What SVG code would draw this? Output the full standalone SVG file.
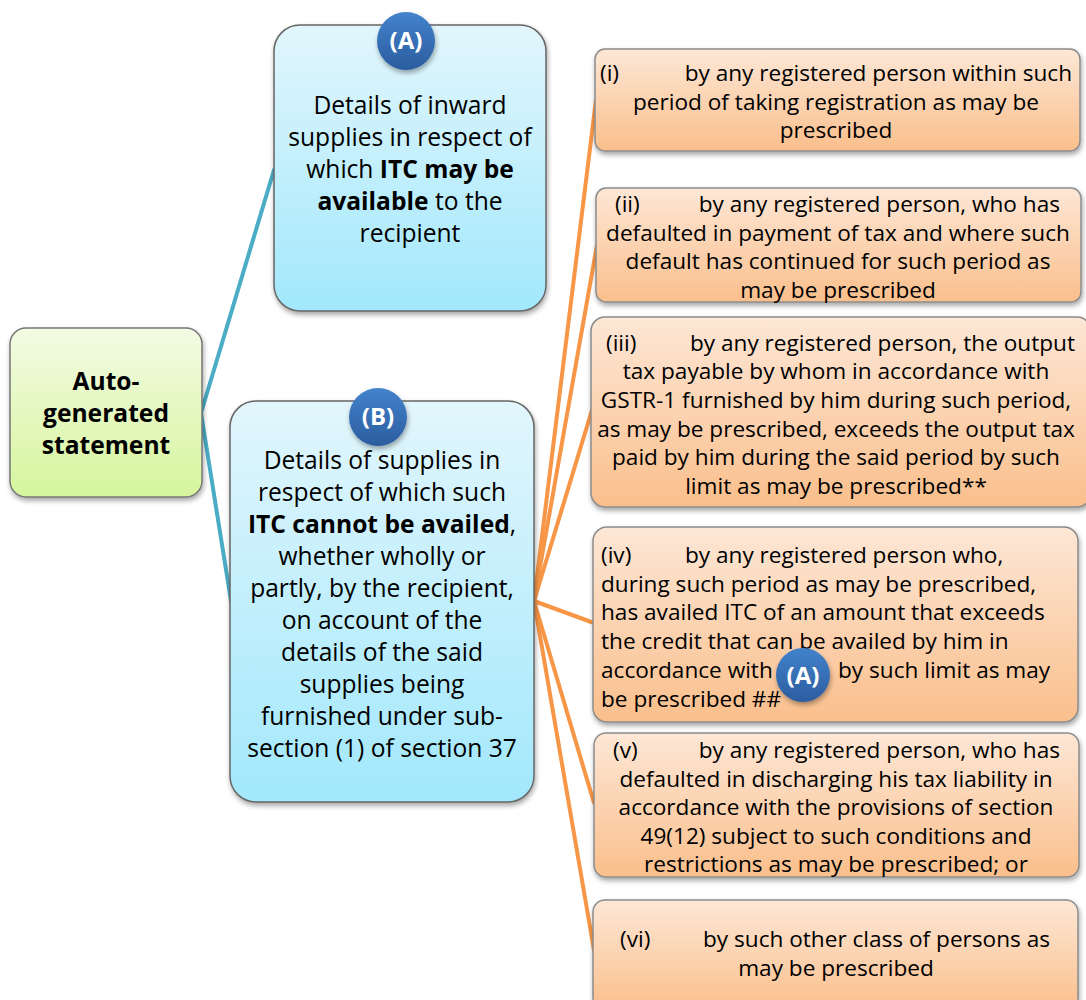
<svg xmlns="http://www.w3.org/2000/svg" width="1086" height="1000" viewBox="0 0 1086 1000">
<defs>
<linearGradient id="gOr" x1="0" y1="0" x2="0" y2="1"><stop offset="0" stop-color="#fde7d6"/><stop offset="1" stop-color="#fabf8c"/></linearGradient>
<linearGradient id="gBl" x1="0" y1="0" x2="0" y2="1"><stop offset="0" stop-color="#e2f6fc"/><stop offset="1" stop-color="#a2e8fc"/></linearGradient>
<linearGradient id="gGr" x1="0" y1="0" x2="0" y2="1"><stop offset="0" stop-color="#f3fbe4"/><stop offset="1" stop-color="#d6f59c"/></linearGradient>
<linearGradient id="gBadge" x1="0" y1="0" x2="0" y2="1"><stop offset="0" stop-color="#4383cc"/><stop offset="1" stop-color="#2b5c9f"/></linearGradient>
<filter id="sh" x="-10%" y="-10%" width="125%" height="130%"><feDropShadow dx="1" dy="3" stdDeviation="2.5" flood-color="#000" flood-opacity="0.35"/></filter>
</defs>
<style>
.t{font-family:"Open Sans","Noto Sans","Liberation Sans",sans-serif;fill:#000}
.big{font-size:24.6px}
.sm{font-size:22.6px}
.c{text-anchor:middle}
.b{font-weight:bold}
.orb{fill:url(#gOr);stroke:#8c8c8c;stroke-width:1.5}
.blb{fill:url(#gBl);stroke:#666;stroke-width:1.5}
.bd{fill:url(#gBadge);filter:url(#sh)}
.bdt{font-family:"Open Sans","Noto Sans","Liberation Sans",sans-serif;font-size:24px;font-weight:bold;fill:#fff;text-anchor:middle}
</style>
<g id="connectors" fill="none" stroke-linecap="round">
<g stroke="#4aacc5" stroke-width="4">
<line x1="201" y1="413" x2="274" y2="170"/>
<line x1="201" y1="413" x2="231" y2="601"/>
</g>
<g stroke="#f79646" stroke-width="4">
<line x1="534" y1="601" x2="596" y2="100"/>
<line x1="534" y1="601" x2="597" y2="245"/>
<line x1="534" y1="601" x2="592" y2="410"/>
<line x1="534" y1="601" x2="594" y2="623"/>
<line x1="534" y1="601" x2="594" y2="803"/>
<line x1="534" y1="601" x2="594" y2="950"/>
</g>
</g>
<g id="root">
<rect x="10" y="328" width="192" height="169" rx="16" fill="url(#gGr)" stroke="#777" stroke-width="1.5" filter="url(#sh)"/>
<text class="t big b c" x="106" y="390">Auto-</text>
<text class="t big b c" x="106" y="422">generated</text>
<text class="t big b c" x="106" y="454">statement</text>
</g>
<g id="nodeA">
<rect class="blb" x="274" y="25" width="272" height="286" rx="26" filter="url(#sh)"/>
<text class="t big c" x="410" y="114">Details of inward</text>
<text class="t big c" x="410" y="146">supplies in respect of</text>
<text class="t big c" x="410" y="178">which <tspan class="b">ITC may be</tspan></text>
<text class="t big c" x="410" y="210"><tspan class="b">available</tspan> to the</text>
<text class="t big c" x="410" y="242">recipient</text>
<circle class="bd" cx="406" cy="41" r="29"/>
<text class="bdt" x="406" y="49">(A)</text>
</g>
<g id="nodeB">
<rect class="blb" x="230" y="401" width="304" height="401" rx="26" filter="url(#sh)"/>
<text class="t big c" x="382" y="469">Details of supplies in</text>
<text class="t big c" x="382" y="501">respect of which such</text>
<text class="t big c" x="382" y="533"><tspan class="b">ITC cannot be availed</tspan>,</text>
<text class="t big c" x="382" y="565">whether wholly or</text>
<text class="t big c" x="382" y="597">partly, by the recipient,</text>
<text class="t big c" x="382" y="629">on account of the</text>
<text class="t big c" x="382" y="661">details of the said</text>
<text class="t big c" x="382" y="693">supplies being</text>
<text class="t big c" x="382" y="725">furnished under sub-</text>
<text class="t big c" x="382" y="757">section (1) of section 37</text>
<circle class="bd" cx="378" cy="417" r="29"/>
<text class="bdt" x="378" y="425">(B)</text>
</g>
<g id="node1">
<rect class="orb" x="595" y="49" width="485" height="102" rx="10" filter="url(#sh)"/>
<text class="t sm" x="600" y="81">(i)</text>
<text class="t sm" x="1072" y="81" text-anchor="end">by any registered person within such</text>
<text class="t sm c" x="836" y="110">period of taking registration as may be</text>
<text class="t sm c" x="836" y="138">prescribed</text>
</g>
<g id="node2">
<rect class="orb" x="596" y="188" width="485" height="114" rx="10" filter="url(#sh)"/>
<text class="t sm" x="615" y="212">(ii)</text>
<text class="t sm" x="1060" y="212" text-anchor="end">by any registered person, who has</text>
<text class="t sm c" x="838" y="241">defaulted in payment of tax and where such</text>
<text class="t sm c" x="838" y="269">default has continued for such period as</text>
<text class="t sm c" x="838" y="298">may be prescribed</text>
</g>
<g id="node3">
<rect class="orb" x="591" y="317" width="500" height="190" rx="14" filter="url(#sh)"/>
<text class="t sm" x="606" y="351">(iii)</text>
<text class="t sm" x="1075" y="351" text-anchor="end">by any registered person, the output</text>
<text class="t sm c" x="836" y="379">tax payable by whom in accordance with</text>
<text class="t sm c" x="836" y="408">GSTR-1 furnished by him during such period,</text>
<text class="t sm c" x="836" y="437">as may be prescribed, exceeds the output tax</text>
<text class="t sm c" x="836" y="465">paid by him during the said period by such</text>
<text class="t sm c" x="836" y="494">limit as may be prescribed**</text>
</g>
<g id="node4">
<rect class="orb" x="593" y="527" width="485" height="195" rx="14" filter="url(#sh)"/>
<text class="t sm" x="601" y="563">(iv)</text>
<text class="t sm" x="685" y="563">by any registered person who,</text>
<text class="t sm" x="601" y="592">during such period as may be prescribed,</text>
<text class="t sm" x="601" y="620">has availed ITC of an amount that exceeds</text>
<text class="t sm" x="601" y="649">the credit that can be availed by him in</text>
<text class="t sm" x="601" y="678">accordance with</text>
<text class="t sm" x="838" y="678">by such limit as may</text>
<text class="t sm" x="601" y="707">be prescribed ##</text>
<circle class="bd" cx="803" cy="675" r="27"/>
<text class="bdt" x="803" y="684">(A)</text>
</g>
<g id="node5">
<rect class="orb" x="594" y="733" width="485" height="144" rx="12" filter="url(#sh)"/>
<text class="t sm" x="613" y="758">(v)</text>
<text class="t sm" x="1060" y="758" text-anchor="end">by any registered person, who has</text>
<text class="t sm c" x="836" y="787">defaulted in discharging his tax liability in</text>
<text class="t sm c" x="836" y="815">accordance with the provisions of section</text>
<text class="t sm c" x="836" y="844">49(12) subject to such conditions and</text>
<text class="t sm c" x="836" y="872">restrictions as may be prescribed; or</text>
</g>
<g id="node6">
<rect class="orb" x="593" y="900" width="485" height="110" rx="12" filter="url(#sh)"/>
<text class="t sm" x="620" y="947">(vi)</text>
<text class="t sm" x="1050" y="947" text-anchor="end">by such other class of persons as</text>
<text class="t sm c" x="836" y="976">may be prescribed</text>
</g>
</svg>
